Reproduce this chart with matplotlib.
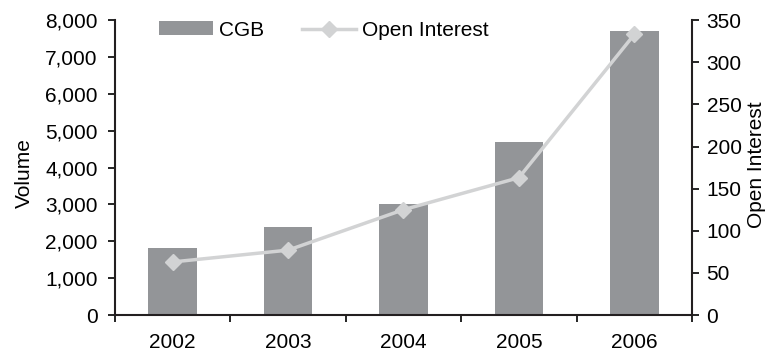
import numpy as np
from matplotlib import pyplot as plt
from matplotlib.ticker import FuncFormatter

years = ['2002', '2003', '2004', '2005', '2006']
volume = [1820, 2385, 3005, 4690, 7700]
open_interest = [63, 77, 125, 163, 333]

plt.rcParams['font.family'] = ['Liberation Sans', 'DejaVu Sans']
plt.rcParams['font.size'] = 15


def main():
    fig = plt.figure(figsize=(7.69, 3.53), dpi=100)
    ax = fig.add_axes([0.1495, 0.1076, 0.7504, 0.8354])
    x = np.arange(len(years))

    bars = ax.bar(x, volume, width=0.42, color='#939598', label='CGB', zorder=1)
    ax.set_xlim(-0.5, 4.5)
    ax.set_ylim(0, 8000)
    ax.set_yticks(range(0, 8001, 1000))
    ax.yaxis.set_major_formatter(FuncFormatter(lambda v, p: '{:,.0f}'.format(v)))
    ax.set_ylabel('Volume', fontsize=15)
    ax.yaxis.set_label_coords(-0.14, 0.48)

    # year labels sit between the tick marks
    ax.set_xticks(np.arange(-0.5, 5, 1))
    ax.set_xticklabels([])
    ax.set_xticks(x, minor=True)
    ax.set_xticklabels(years, minor=True)
    ax.tick_params(axis='x', which='minor', length=0, pad=13)
    ax.tick_params(axis='x', which='major', length=5, width=1.2, direction='out')
    ax.tick_params(axis='y', length=5, width=1.2, direction='out', pad=7.5)

    for side in ['top', 'right']:
        ax.spines[side].set_visible(False)
    for side in ['left', 'bottom']:
        ax.spines[side].set_linewidth(1.5)
        ax.spines[side].set_color('#231f20')

    ax2 = ax.twinx()
    line, = ax2.plot(x, open_interest, color='#d2d3d4', lw=2.5, marker='D',
                     markersize=8, label='Open Interest')
    ax2.set_ylim(0, 350)
    ax2.set_yticks(range(0, 351, 50))
    ax2.set_ylabel('Open Interest', fontsize=15)
    ax2.yaxis.set_label_coords(1.096, 0.51)
    ax2.tick_params(axis='y', length=5, width=1.2, direction='out', pad=5.5)
    for side in ['top', 'left', 'bottom']:
        ax2.spines[side].set_visible(False)
    ax2.spines['right'].set_linewidth(1.5)
    ax2.spines['right'].set_color('#231f20')

    ax.legend([bars, line], ['CGB', 'Open Interest'], loc='center left',
              bbox_to_anchor=(0.043, 0.966), ncol=2, frameon=False,
              handlelength=2.6, handleheight=0.65, columnspacing=1.8,
              handletextpad=0.3)

    fig.savefig('out.png', dpi=100)


if __name__ == '__main__':
    main()
